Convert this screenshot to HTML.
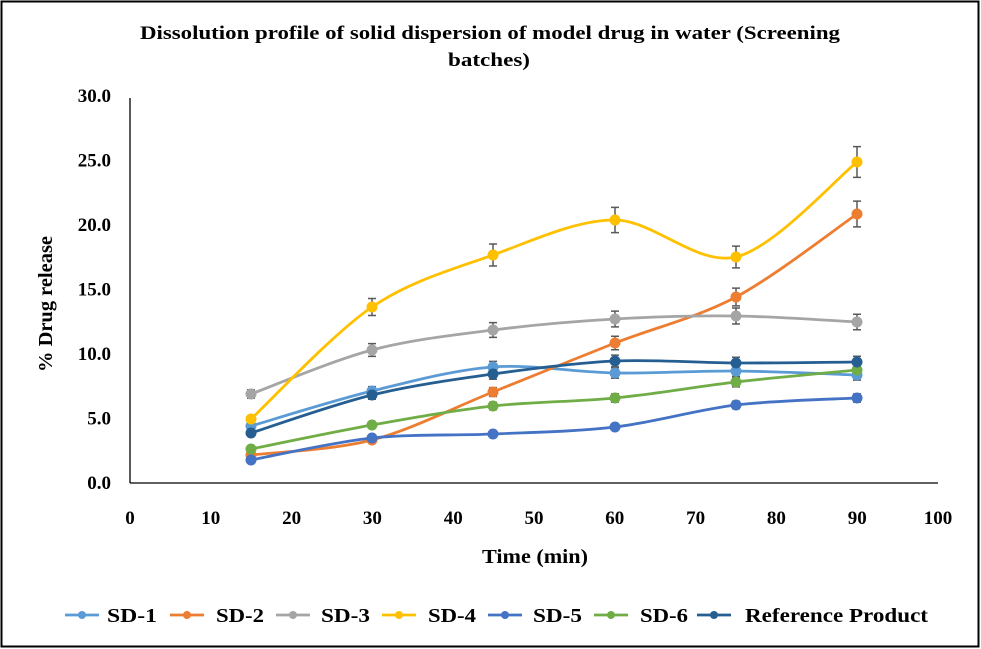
<!DOCTYPE html>
<html><head><meta charset="utf-8"><style>
html,body{margin:0;padding:0;background:#fff}
svg{display:block;font-family:"Liberation Serif",serif;font-weight:bold}
</style></head><body>
<svg width="981" height="649" viewBox="0 0 981 649" xmlns="http://www.w3.org/2000/svg">
<rect x="1.5" y="1.5" width="977" height="645" fill="#fff" stroke="#000" stroke-width="2"/>
<text x="140" y="39" font-size="19" textLength="700" lengthAdjust="spacingAndGlyphs">Dissolution profile of solid dispersion of model drug in water (Screening</text>
<text x="448" y="66" font-size="19" textLength="82" lengthAdjust="spacingAndGlyphs">batches)</text>
<line x1="130" y1="98" x2="130" y2="483" stroke="#000" stroke-width="1.3"/>
<line x1="130" y1="483" x2="938" y2="483" stroke="#000" stroke-width="1.3"/>
<g id="yl" font-size="19" text-anchor="end"></g>
<g font-size="19" text-anchor="middle" id="xl"></g>
<text x="482" y="563" font-size="20" textLength="106" lengthAdjust="spacingAndGlyphs">Time (min)</text>
<text transform="translate(52,372) rotate(-90)" font-size="20" textLength="136" lengthAdjust="spacingAndGlyphs">% Drug release</text>
<g id="series"></g>
<g id="legend" font-size="20"></g>
</svg>
<script>
(function(){
var NS="http://www.w3.org/2000/svg";
function el(t,a,p,txt){var e=document.createElementNS(NS,t);for(var k in a)e.setAttribute(k,a[k]);if(txt!==undefined)e.textContent=txt;p.appendChild(e);return e;}
var yl=document.getElementById('yl'),xl=document.getElementById('xl');
for(var i=0;i<=6;i++){var v=i*5;var y=483-v*12.9;el('text',{x:111,y:y+6},yl,v.toFixed(1));}
for(var i=0;i<=10;i++){var x=130+i*80.8;el('text',{x:x,y:524},xl,String(i*10));}
var xs=[251,372,493,615,736,857];
var S=[
["#5b9bd5",[426,391,367,373,371,375]],
["#ed7d31",[455,440,392,343,297,214]],
["#a5a5a5",[394,350,330,319,316,322]],
["#ffc000",[419,307,255,220,257,162]],
["#4472c4",[460,438,434,427,405,398]],
["#70ad47",[449,425,406,398,382,370]],
["#255e91",[433,395,374,361,363,362]]
];
var g=document.getElementById('series');
function path(ys){var p=xs.map(function(x,i){return [x,ys[i]];});var d="M"+p[0][0]+","+p[0][1];
for(var i=0;i<p.length-1;i++){var p0=p[i-1]||p[i],p1=p[i],p2=p[i+1],p3=p[i+2]||p2;var t=0.16;
var c1=[p1[0]+(p2[0]-p0[0])*t,p1[1]+(p2[1]-p0[1])*t],c2=[p2[0]-(p3[0]-p1[0])*t,p2[1]-(p3[1]-p1[1])*t];
d+=" C"+c1+" "+c2+" "+p2;}return d;}
S.forEach(function(s){
 s[1].forEach(function(y,i){var v=(483-y)/12.9;var e=Math.max(v*0.048*12.9,2.5);
  el('path',{d:"M"+xs[i]+","+(y-e)+"V"+(y+e)+"M"+(xs[i]-4)+","+(y-e)+"h8M"+(xs[i]-4)+","+(y+e)+"h8",stroke:"#595959","stroke-width":1.5,fill:"none"},g);});
});
S.forEach(function(s){
 el('path',{d:path(s[1]),stroke:s[0],"stroke-width":2.8,fill:"none"},g);
 s[1].forEach(function(y,i){el('circle',{cx:xs[i],cy:y,r:5.5,fill:s[0]},g);});
});
var L=document.getElementById('legend');
var items=[[65,107,"SD-1",50],[170,216,"SD-2",48],[276,321,"SD-3",49],[382,428,"SD-4",48],[488,533,"SD-5",49],[594,640,"SD-6",48],[697,745,"Reference Product",183]];
items.forEach(function(it,i){
 el('line',{x1:it[0],y1:615,x2:it[0]+34,y2:615,stroke:S[i][0],"stroke-width":2.8},L);
 el('circle',{cx:it[0]+17,cy:615,r:4,fill:S[i][0]},L);
 el('text',{x:it[1],y:622,textLength:it[3],lengthAdjust:"spacingAndGlyphs"},L,it[2]);
});
})();
</script>
</body></html>
